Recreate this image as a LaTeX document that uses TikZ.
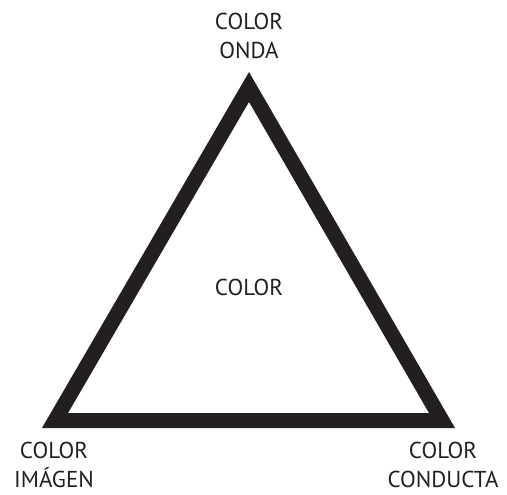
\documentclass[tikz,border=0pt]{standalone}
\usepackage{fontspec}
\setmainfont{PT Sans}
\usetikzlibrary{positioning}
\definecolor{tinta}{RGB}{35,31,32}

\begin{document}
\begin{tikzpicture}[x=1pt, y=-1pt, every node/.style={align=center, font=\fontsize{23}{29}\selectfont, text=tinta, inner sep=0pt}]
\useasboundingbox (0,0) rectangle (507,495);
% Triangle corners
\coordinate (onda) at (249,87);
\coordinate (imagen) at (55,420.5);
\coordinate (conducta) at (442,420.5);

% Triangle
\draw[tinta, line width=15pt, line join=miter] (onda) -- (conducta) -- (imagen) -- cycle;

% Labels
\node (ondalbl) at (249,36) {COLOR\\ONDA};
\node (imagenlbl) at (54,465) {COLOR\\IMÁGEN};
\node (conductalbl) at (443,465) {COLOR\\CONDUCTA};
\node (centro) at (249,287) {COLOR};
\end{tikzpicture}
\end{document}
